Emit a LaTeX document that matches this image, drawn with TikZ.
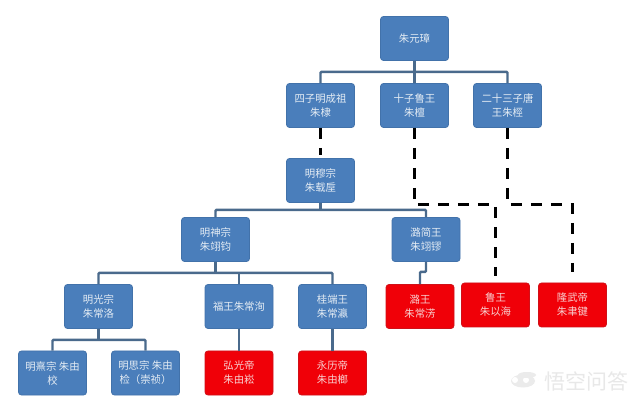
\documentclass[tikz,border=0pt]{standalone}
\usepackage{fontspec}
\setmainfont{Noto Sans CJK SC}
\definecolor{boxblue}{HTML}{4A7EBB}
\definecolor{boxedge}{HTML}{4272AA}
\definecolor{boxred}{HTML}{F00008}
\definecolor{redge}{HTML}{D01018}
\definecolor{linkc}{HTML}{4A6A8C}
\definecolor{labelc}{HTML}{E4ECF4}
\definecolor{redlabel}{HTML}{F8D0D0}
\tikzset{
  person/.style={rounded corners=3pt,minimum width=68pt,minimum height=44pt,inner sep=0pt,align=center,font=\fontsize{10.4pt}{14pt}\selectfont,line width=0.8pt},
  bluebox/.style={person,fill=boxblue,draw=boxedge,text=labelc},
  redbox/.style={person,fill=boxred,draw=redge,text=redlabel},
  link/.style={draw=linkc,line width=2.4pt,rounded corners=1pt},
  dashlink/.style={draw=black,line width=3pt,dash pattern=on 11pt off 9pt},
}
\begin{document}
\begin{tikzpicture}[x=1pt,y=-1pt]
\useasboundingbox (0,0) rectangle (640,403);
\fill[white] (0,0) rectangle (640,403);
\node[bluebox] (root) at (414.5,38.5) {朱元璋};
\node[bluebox] (s4) at (320.5,105.5) {四子明成祖\\朱棣};
\node[bluebox] (s10) at (414.5,105.5) {十子鲁王\\朱檀};
\node[bluebox] (s23) at (507.5,105.5) {二十三子唐\\王朱桱};
\node[bluebox] (mu) at (320.5,180.5) {明穆宗\\朱载垕};
\node[bluebox] (shen) at (215.5,239.5) {明神宗\\朱翊钧};
\node[bluebox] (lujian) at (426,239.5) {潞简王\\朱翊镠};
\node[bluebox] (guang) at (98.5,306.5) {明光宗\\朱常洛};
\node[bluebox] (fu) at (239,306.5) {福王朱常洵};
\node[bluebox] (gui) at (332.5,306.5) {桂端王\\朱常瀛};
\node[bluebox] (xi) at (52.5,373) {明熹宗 朱由\\校};
\node[bluebox] (si) at (145.5,373) {明思宗 朱由\\检（崇祯）};
\node[redbox] (hong) at (239,373) {弘光帝\\朱由崧};
\node[redbox] (yong) at (332.5,373) {永历帝\\朱由榔};
\node[redbox] (luw) at (420,306.5) {潞王\\朱常淓};
\node[redbox] (lu) at (495.5,305) {鲁王\\朱以海};
\node[redbox] (long) at (572.5,305) {隆武帝\\朱聿键};
% solid connectors
\draw[link] (root.south) -- ++(0,11) coordinate (b1);
\draw[link] (s4.north) |- (b1) -| (s23.north);
\draw[link] (s10.north) -- (b1 -| s10.north);
\draw[link] (mu.south) -- ++(0,7) coordinate (b2);
\draw[link] (shen.north) |- (b2) -| (lujian.north);
\draw[link] (shen.south) -- ++(0,11) coordinate (b3);
\draw[link] (guang.north) |- (b3) -| (gui.north);
\draw[link] (fu.north) -- (b3 -| fu.north);
\draw[link] (guang.south) -- ++(0,11) coordinate (b4);
\draw[link] (xi.north) |- (b4) -| (si.north);
\draw[link] (fu.south) -- ++(0,1) -- (hong.north);
\draw[link] (gui.south) -- ++(0,1) -- (yong.north);
\draw[link] (lujian.south) -- ++(0,10) -| (luw.north);
% dashed connectors
\coordinate (dy) at (0,204.5);
\draw[dashlink,shorten >=3pt] (s4.south) -- (mu.north);
\draw[dashlink,shorten >=7pt] (s10.south) |- (dy -| lu.north) -- (lu.north);
\draw[dashlink,shorten >=11pt] (s23.south) |- (dy -| long.north) -- (long.north);
% watermark
\fill[black!8] (523,381) ellipse (12pt and 6.5pt);
\fill[white] (515,380) circle (3pt) (526,380) circle (3pt);
\fill[black!8] (527,375) ellipse (9pt and 3pt);
\node[text=black!9,font=\fontsize{21pt}{21pt}\selectfont,inner sep=0pt] (wm) at (586,381) {悟空问答};
\end{tikzpicture}
\end{document}
